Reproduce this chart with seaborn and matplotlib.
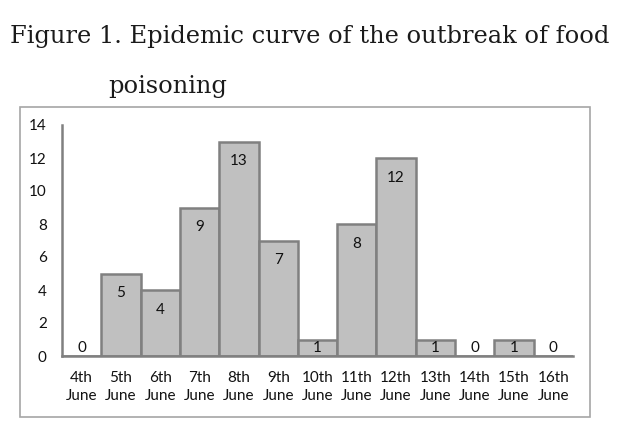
import matplotlib
matplotlib.use("Agg")
import matplotlib.pyplot as plt
import seaborn as sns
import pandas as pd
from matplotlib.patches import Rectangle

days = ["4th", "5th", "6th", "7th", "8th", "9th", "10th", "11th", "12th", "13th", "14th", "15th", "16th"]
month = "June"
cases = [0, 5, 4, 9, 13, 7, 1, 8, 12, 1, 0, 1, 0]
yticks = [0, 2, 4, 6, 8, 10, 12, 14]
title_line1 = "Figure 1. Epidemic curve of the outbreak of food"
title_line2 = "poisoning"

labels = [f"{d}\n{month}" for d in days]
df = pd.DataFrame({"day": labels, "cases": cases})

sns.set_theme(style="white")
plt.rcParams["font.family"] = ["Lato", "DejaVu Sans"]

fig = plt.figure(figsize=(6.24, 4.28), dpi=100)
ax = fig.add_axes([62 / 624, 72 / 428, 511 / 624, 231 / 428])

sns.barplot(data=df, x="day", y="cases", ax=ax, color="#c0c0c0", width=1.0,
            edgecolor="#808080", linewidth=1.8, saturation=1)

ax.set_xlim(-0.5, len(days) - 0.5)
ax.set_ylim(0, 14)
ax.set_yticks(yticks)
ax.set_xlabel("")
ax.set_ylabel("")
for s in ["top", "right"]:
    ax.spines[s].set_visible(False)
for s in ["left", "bottom"]:
    ax.spines[s].set_color("#808080")
    ax.spines[s].set_linewidth(1.8)
ax.tick_params(axis="both", length=0, labelsize=11, colors="#111111")
ax.tick_params(axis="x", pad=11)
ax.tick_params(axis="y", pad=11)
for t in ax.get_xticklabels():
    t.set_linespacing(1.3)

for i, v in enumerate(cases):
    y = max(v - 1.2, 0.5)
    ax.text(i, y, str(v), ha="center", va="center", fontsize=11, color="#111111")

fig.patches.append(Rectangle((20 / 624, 11 / 428), 570 / 624, 310 / 428,
                             transform=fig.transFigure, fill=False,
                             edgecolor="#a6a6a6", linewidth=1.2))

fig.text(10 / 624, 1 - 36 / 428, title_line1, ha="left", va="center",
         fontsize=17.4, family="DejaVu Serif", color="#1a1a1a")
fig.text(108 / 624, 1 - 86 / 428, title_line2, ha="left", va="center",
         fontsize=17.4, family="DejaVu Serif", color="#1a1a1a")

fig.savefig("out.png", dpi=100)
